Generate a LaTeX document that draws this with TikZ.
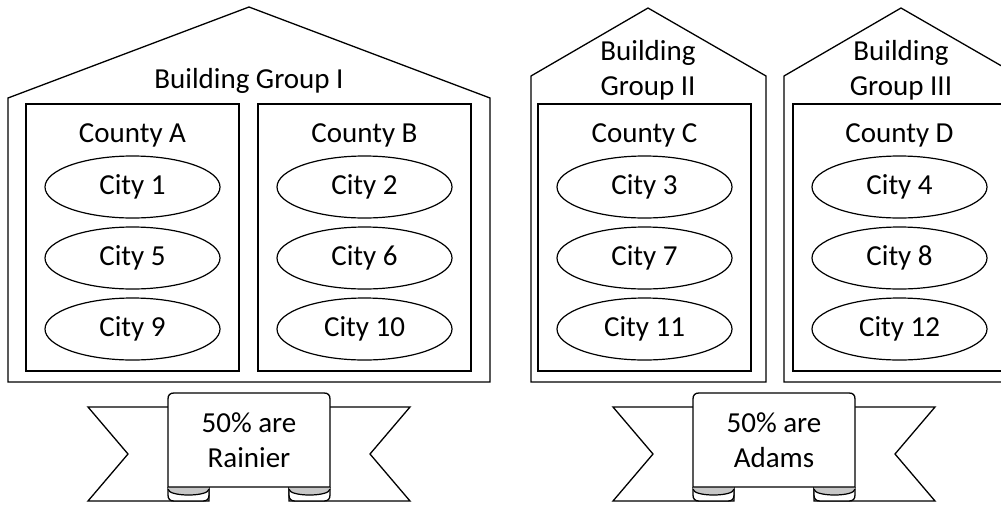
\documentclass[tikz,border=0pt]{standalone}
\usepackage{fontspec}
\setmainfont{Carlito}
\usetikzlibrary{shapes.geometric}
\tikzset{
  x=1pt,y=-1pt,
  txt/.style={font=\fontsize{29}{35}\selectfont, inner sep=0pt, align=center},
  house/.style={draw=black, line width=1.3pt, fill=white, line join=miter},
  countybox/.style={draw=black, line width=1.6pt, rectangle, minimum width=213pt, minimum height=267pt, inner sep=0pt},
  city/.style={draw=black, line width=1.2pt, ellipse, minimum width=175pt, minimum height=62pt, inner sep=0pt, font=\fontsize{29}{35}\selectfont},
  rib/.style={draw=black, line width=1.3pt, fill=white, line join=miter},
  ribgray/.style={fill=black!22},
}
\begin{document}
\begin{tikzpicture}
\path[use as bounding box] (0,0) rectangle (1001,504);
\clip (0,0) rectangle (1001,504);
% buildings
\draw[house] (8,382) -- (8,98) -- (249,7) -- (490,98) -- (490,382) -- cycle;
\draw[house] (531,382) -- (531,76) -- (648,8) -- (766,76) -- (766,382) -- cycle;
\draw[house] (784,382) -- (784,76) -- (901,8) -- (1019,76) -- (1019,382) -- cycle;
\node[txt] (bg1) at (249,81) {Building Group I};
\node[txt] (bg2) at (648,70.5) {Building\\Group II};
\node[txt] (bg3) at (901,70.5) {Building\\Group III};
% counties
\foreach \n/\cx/\lab/\ca/\cb/\cc in {A/132.5/County A/1/5/9, B/364.5/County B/2/6/10, C/644.5/County C/3/7/11, D/899.5/County D/4/8/12}{
  \node[countybox] (county\n) at (\cx,237.5) {};
  \node[txt] (label\n) at (\cx,135) {\lab};
  \node[city] (city\ca) at (\cx,187) {City \ca};
  \node[city] (city\cb) at (\cx,258) {City \cb};
  \node[city] (city\cc) at (\cx,329) {City \cc};
}
% ribbons
\foreach \cx/\nm/\tx in {249/r1/Rainier, 774/r2/Adams}{
\begin{scope}[shift={(\cx,0)}]
  % tails
  \draw[rib] (-161,407) -- (-40,407) -- (-40,501) -- (-161,501) -- (-121,454) -- cycle;
  \draw[rib] (161,407) -- (40,407) -- (40,501) -- (161,501) -- (121,454) -- cycle;
  % folds
  \draw[rib] (-81,487) -- (-81,495) .. controls (-81,499) and (-79,501) .. (-75,501) -- (-46,501) .. controls (-42,501) and (-40,499) .. (-40,495) -- (-40,487);
  \fill[ribgray] (-81,487) -- (-40,487) -- (-40,489) .. controls (-40,497) and (-81,497) .. (-81,489) -- cycle;
  \draw[line width=1.2pt] (-40,489) .. controls (-40,497) and (-81,497) .. (-81,489);
  \draw[rib] (81,487) -- (81,495) .. controls (81,499) and (79,501) .. (75,501) -- (46,501) .. controls (42,501) and (40,499) .. (40,495) -- (40,487);
  \fill[ribgray] (81,487) -- (40,487) -- (40,489) .. controls (40,497) and (81,497) .. (81,489) -- cycle;
  \draw[line width=1.2pt] (40,489) .. controls (40,497) and (81,497) .. (81,489);
  % panel
  \draw[rib] (-81,487) -- (-81,399) .. controls (-81,395) and (-79,393) .. (-75,393) -- (75,393) .. controls (79,393) and (81,395) .. (81,399) -- (81,487) -- cycle;
  \node[txt] (\nm) at (0,440) {50\% are\\\tx};
\end{scope}
}
\end{tikzpicture}
\end{document}
